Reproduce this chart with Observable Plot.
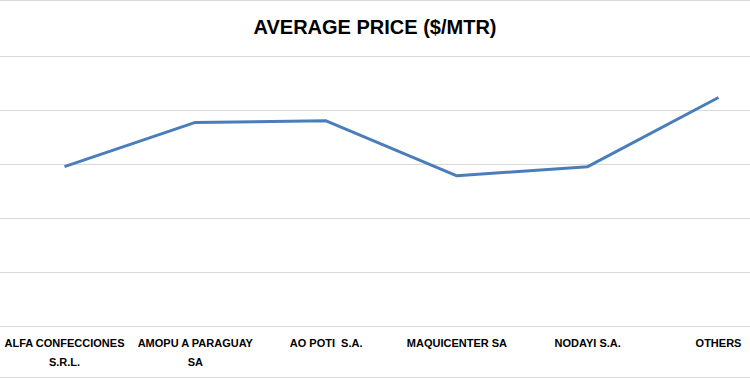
<!DOCTYPE html>
<html>
<head>
<meta charset="utf-8">
<script src="https://cdn.jsdelivr.net/npm/d3@7"></script>
<script src="https://cdn.jsdelivr.net/npm/@observablehq/plot@0.6"></script>
<style>
  html, body { margin: 0; padding: 0; background: #fff; }
  #chart {
    width: 750px; height: 378px; box-sizing: border-box;
    border-top: 1px solid #d9d9d9; border-bottom: 1px solid #d9d9d9;
    overflow: hidden;
  }
  #title {
    height: 45px; line-height: 52px; text-align: center;
    font-family: "Liberation Sans", Arial, sans-serif;
    font-weight: bold; font-size: 20px; color: #000;
  }
  svg { display: block; }
</style>
</head>
<body>
<div id="chart">
  <div id="title">AVERAGE PRICE ($/MTR)</div>
</div>
<script>
const categories = ["ALFA CONFECCIONES\nS.R.L.", "AMOPU A PARAGUAY\nSA", "AO POTI\u00a0 S.A.", "MAQUICENTER SA", "NODAYI S.A.", "OTHERS"];
const avgPrice = [2.96, 3.78, 3.81, 2.79, 2.96, 4.24];
const gridValues = [0, 1, 2, 3, 4, 5];

const data = categories.map((c, i) => ({category: c, value: avgPrice[i]}));

const plot = Plot.plot({
  width: 750,
  height: 331,
  marginTop: 10,
  marginBottom: 51,
  marginLeft: 0,
  marginRight: 0,
  style: {fontFamily: '"Liberation Sans", Arial, sans-serif', background: "#fff"},
  x: {type: "point", domain: categories, range: [64, 718], padding: 0, round: false},
  y: {domain: [0, 5], range: [280, 10], axis: null},
  marks: [
    Plot.ruleY(gridValues, {stroke: "#d9d9d9", strokeWidth: 1}),
    Plot.axisX({tickSize: 0, tickPadding: 8, fontSize: 11, fontWeight: "bold", fill: "#000", lineHeight: 1.65, label: null}),
    Plot.line(data, {x: "category", y: "value", stroke: "#4a7ebb", strokeWidth: 3, strokeLinejoin: "round", strokeLinecap: "butt"})
  ]
});
document.getElementById("chart").appendChild(plot);
</script>
</body>
</html>
